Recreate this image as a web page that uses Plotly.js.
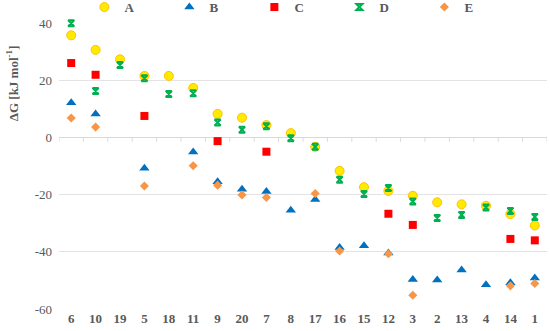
<!DOCTYPE html>
<html>
<head>
<meta charset="utf-8">
<script src="https://cdn.plot.ly/plotly-3.0.1.min.js"></script>
<style>html,body{margin:0;padding:0;background:#fff;}#chart{width:550px;height:331px;}</style>
</head>
<body>
<div id="chart"></div>
<script>
var categories = ["6","10","19","5","18","11","9","20","7","8","17","16","15","12","3","2","13","4","14","1"];
var seriesA = [35.7, 30.6, 27.3, 21.5, 21.5, 17.3, 8.2, 6.9, 4.3, 1.5, -3.3, -11.7, -17.4, -18.7, -20.4, -22.7, -23.4, -23.9, -26.8, -30.8];
var seriesB = [12.1, 8.2, null, -10.8, null, -5.1, -15.5, -18.1, -18.9, -25.5, -21.7, -38.5, -37.9, -40.4, -49.7, -49.9, -46.4, -51.5, -50.8, -49.2];
var seriesC = [26.0, 21.9, null, 7.5, null, null, -1.3, null, -5.0, null, null, null, null, -26.7, -30.6, null, null, null, -35.5, -36.0];
var seriesD = [39.9, 16.2, 25.3, 20.7, 15.2, 15.4, 5.2, 2.7, 3.9, -0.3, -3.3, -14.8, -19.8, -17.7, -22.4, -28.2, -27.1, -24.5, -25.7, -27.8];
var seriesE = [6.8, 3.6, null, -17.0, null, -9.9, -16.7, -20.1, -21.0, null, -19.6, -39.7, null, -40.7, -55.2, null, null, null, -51.9, -51.1];
var seriesNames = ["A", "B", "C", "D", "E"];
var yTicks = [-60, -40, -20, 0, 20, 40];

var serif = "Liberation Serif, Times New Roman, serif";
var traces = [
  {name: seriesNames[0], y: seriesA, marker: {symbol: "circle", size: 9, color: "#ffea00", line: {color: "#ffc000", width: 1}}},
  {name: seriesNames[1], y: seriesB, marker: {symbol: "triangle-up", size: 9, color: "#0070c0", line: {width: 0}}},
  {name: seriesNames[2], y: seriesC, marker: {symbol: "square", size: 8, color: "#ff0000", line: {width: 0}}},
  {name: seriesNames[3], y: seriesD, marker: {symbol: "hourglass-open", size: 6, color: "#00b050", line: {color: "#00b050", width: 2}}},
  {name: seriesNames[4], y: seriesE, marker: {symbol: "diamond", size: 7, color: "#f79646", line: {width: 0}}}
].map(function (t) {
  t.x = categories; t.type = "scatter"; t.mode = "markers"; t.cliponaxis = false; return t;
});

// axis tick marks on the zero line at category boundaries
var shapes = [];
for (var i = 0; i <= categories.length; i++) {
  shapes.push({type: "line", xref: "x", yref: "y", x0: i - 0.5, x1: i - 0.5, y0: 0, y1: -1.5, line: {color: "#d9d9d9", width: 1}});
}

var layout = {
  width: 550, height: 331,
  margin: {l: 59, r: 3, t: 23, b: 22, autoexpand: false},
  paper_bgcolor: "#ffffff", plot_bgcolor: "#ffffff",
  showlegend: true,
  legend: {orientation: "h", xref: "paper", x: 0.052, xanchor: "left", yref: "paper", y: 1.108, yanchor: "top",
           font: {family: serif, size: 13, color: "#595959", weight: "bold"},
           entrywidth: 40, entrywidthmode: "pixels", itemwidth: 30, tracegroupgap: 0},
  xaxis: {type: "category", range: [-0.5, categories.length - 0.5], showgrid: false, showline: false,
          ticks: "", zeroline: false,
          tickfont: {family: serif, size: 13, color: "#595959", weight: "bold"}},
  yaxis: {range: [-60, 40], tickvals: yTicks, ticktext: yTicks.map(String), showgrid: true,
          gridcolor: "#e3e3e3", gridwidth: 1, zeroline: true, zerolinecolor: "#d9d9d9", zerolinewidth: 1,
          showline: false, ticks: "", ticklabelstandoff: 6,
          tickfont: {family: serif, size: 13, color: "#595959"}},
  shapes: shapes,
  annotations: [{text: "ΔG [kJ mol<sup>-1</sup>]", xref: "paper", yref: "paper", x: -0.096, y: 0.79,
                 xanchor: "center", yanchor: "middle", textangle: -90, showarrow: false,
                 font: {family: serif, size: 13, color: "#595959", weight: "bold"}}]
};

Plotly.newPlot("chart", traces, layout, {staticPlot: true, displayModeBar: false});
</script>
</body>
</html>
